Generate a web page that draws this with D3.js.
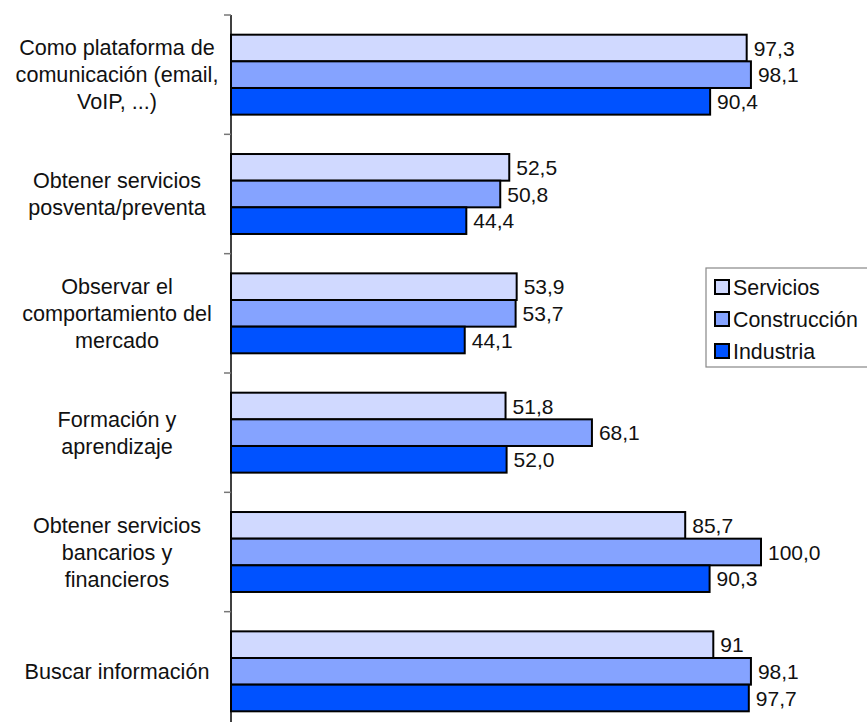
<!DOCTYPE html>
<html>
<head>
<meta charset="utf-8">
<script src="https://cdn.jsdelivr.net/npm/d3@7"></script>
<style>
  body { margin: 0; background: #fff; }
  text { font-family: "Liberation Sans", Arial, Helvetica, sans-serif; fill: #111; }
</style>
</head>
<body>
<div id="chart"></div>
<script>
// categories, top to bottom, already split into lines like the original
var categories = [
    ["Como plataforma de", "comunicación (email,", "VoIP, ...)"],
    ["Obtener servicios", "posventa/preventa"],
    ["Observar el", "comportamiento del", "mercado"],
    ["Formación y", "aprendizaje"],
    ["Obtener servicios", "bancarios y", "financieros"],
    ["Buscar información"]
];

var seriesNames = ["Servicios", "Construcción", "Industria"];
var seriesColors = ["#d0d9ff", "#85a3ff", "#0052ff"];

// values as printed on the chart (comma decimals)
var servicios = ["97,3", "52,5", "53,9", "51,8", "85,7", "91"];
var construccion = ["98,1", "50,8", "53,7", "68,1", "100,0", "98,1"];
var industria = ["90,4", "44,4", "44,1", "52,0", "90,3", "97,7"];

var seriesValues = [servicios, construccion, industria];

var width = 867;
var height = 722;
var axisX = 231;

var svg = d3.select("#chart").append("svg")
    .attr("width", width)
    .attr("height", height);

var rows = categories.map(function(lines, i) {
    return { key: "c" + i, lines: lines };
});

var x = d3.scaleLinear().domain([0, 100]).range([axisX, 761]);

var y = d3.scaleBand()
    .domain(rows.map(d => d.key))
    .range([15, 731])
    .paddingInner(0.33)
    .paddingOuter(0.165);

var ySub = d3.scaleBand()
    .domain(seriesNames)
    .range([0, y.bandwidth()]);

//bars
var groups = svg.selectAll(".group")
    .data(rows)
    .enter().append("g")
    .attr("class", "group")
    .attr("transform", d => "translate(0," + y(d.key) + ")");

groups.each(function(row, i) {
    var g = d3.select(this);
    var items = seriesNames.map(function(name, s) {
        var label = seriesValues[s][i];
        return { name: name, label: label, value: +label.replace(",", "."), color: seriesColors[s] };
    });

    g.selectAll("rect")
        .data(items)
        .enter().append("rect")
        .attr("x", x(0))
        .attr("y", d => ySub(d.name))
        .attr("width", d => x(d.value) - x(0))
        .attr("height", ySub.bandwidth())
        .attr("fill", d => d.color)
        .attr("stroke", "#000")
        .attr("stroke-width", 2);

    g.selectAll(".val")
        .data(items)
        .enter().append("text")
        .attr("class", "val")
        .attr("x", d => x(d.value) + 7)
        .attr("y", d => ySub(d.name) + ySub.bandwidth() / 2)
        .attr("dy", "0.36em")
        .attr("font-size", 21)
        .text(d => d.label);
});

//axis line and ticks between categories
svg.append("line")
    .attr("x1", axisX).attr("x2", axisX)
    .attr("y1", 15).attr("y2", height)
    .attr("stroke", "#000")
    .attr("stroke-width", 1.5);

var tickYs = rows.map(d => y(d.key) - y.step() * y.paddingOuter());
svg.selectAll(".tick")
    .data(tickYs)
    .enter().append("line")
    .attr("x1", axisX - 7).attr("x2", axisX)
    .attr("y1", d => d).attr("y2", d => d)
    .attr("stroke", "#777")
    .attr("stroke-width", 1.5);

//category labels
var lineH = 27;
svg.selectAll(".cat")
    .data(rows)
    .enter().append("text")
    .attr("class", "cat")
    .attr("text-anchor", "middle")
    .attr("font-size", 21.6)
    .each(function(d) {
        var cy = y(d.key) + y.bandwidth() / 2;
        var start = cy - (d.lines.length - 1) * lineH / 2;
        d3.select(this).selectAll("tspan")
            .data(d.lines)
            .enter().append("tspan")
            .attr("x", 117)
            .attr("y", (l, k) => start + k * lineH)
            .attr("dy", "0.36em")
            .text(l => l);
    });

//legend
var legend = svg.append("g").attr("transform", "translate(706,268)");
legend.append("rect")
    .attr("width", 200)
    .attr("height", 99)
    .attr("fill", "#fff")
    .attr("stroke", "#888")
    .attr("stroke-width", 1.2);

var li = legend.selectAll(".li")
    .data(seriesNames)
    .enter().append("g")
    .attr("transform", (d, i) => "translate(9," + (19 + i * 32) + ")");

li.append("rect")
    .attr("x", 0).attr("y", -7)
    .attr("width", 14).attr("height", 14)
    .attr("fill", (d, i) => seriesColors[i])
    .attr("stroke", "#000")
    .attr("stroke-width", 2);

li.append("text")
    .attr("x", 18)
    .attr("dy", "0.36em")
    .attr("font-size", 21.4)
    .text(d => d);
</script>
</body>
</html>
